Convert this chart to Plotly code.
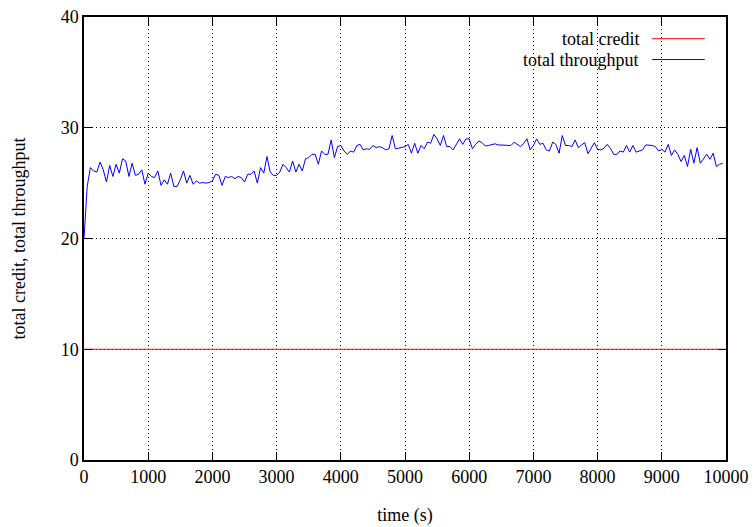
import plotly.graph_objects as go

# time axis (s), sampled every 50 s
time_s = list(range(0, 10000, 50))

throughput = [
    20.0, 24.7, 26.4, 26.1, 26.0, 26.9, 26.2, 25.1, 26.6, 25.6,
    26.7, 25.9, 27.2, 27.0, 25.6, 26.8, 25.7, 25.8, 26.2, 24.9,
    25.9, 25.6, 25.5, 26.1, 24.8, 25.3, 24.9, 25.9, 24.7, 24.7,
    25.3, 26.1, 25.0, 25.7, 24.9, 25.2, 25.0, 25.05, 25.0, 25.05,
    25.2,
    25.8, 25.7, 24.8, 25.6, 25.5, 25.6, 25.4, 25.6, 25.5, 25.1,
    25.8, 25.8, 26.1, 25.0, 26.4, 25.9, 27.4, 26.0, 25.7, 25.7,
    26.0, 26.7, 26.4, 26.0, 27.0, 26.0, 26.7, 26.1, 27.2, 27.3,
    27.6, 27.6, 26.7, 27.9, 27.6, 27.6, 28.9, 27.3, 28.3, 28.4,
    27.9, 27.6, 27.9, 27.8, 28.4, 28.5, 28.0, 28.1, 28.05, 28.4,
    28.2, 28.3, 28.2, 28.0, 28.1, 29.3, 28.1, 28.15, 28.2, 28.3,
    28.5, 27.7, 28.6, 27.7, 28.4, 28.1, 28.7, 28.6, 29.4, 29.0,
    28.4, 29.3, 28.3, 28.3, 28.0, 28.5, 29.0, 28.5, 29.0, 29.0,
    28.1, 28.5, 28.8, 28.65, 28.35, 28.4, 28.5, 28.55, 28.45, 28.45,
    28.4, 28.4, 28.4, 28.7, 28.5, 28.3, 28.6, 29.0, 28.0, 28.4,
    29.0, 28.5, 28.6, 28.0, 27.9, 28.7, 28.5, 27.7, 29.3, 28.4,
    28.4, 28.3, 28.9, 28.2, 28.45, 28.65, 27.65, 28.2, 28.65,
    28.05, 28.0, 28.15, 28.5, 28.15, 27.6, 27.6, 27.9, 27.8, 28.4,
    27.8, 28.4, 27.8, 27.9, 28.0, 28.45, 28.45, 28.4, 28.3, 27.9,
    28.05, 27.8, 28.5, 27.5, 28.0, 27.6, 26.95, 27.5, 26.5, 28.05,
    26.8, 28.2, 26.8, 27.2, 27.6, 27.15, 27.7, 26.5, 26.7, 26.8,
]

credit_time = [0, 10000]
credit = [10, 10]

x_ticks = [0, 1000, 2000, 3000, 4000, 5000, 6000, 7000, 8000, 9000, 10000]
x_tick_labels = ["0", "1000", "2000", "3000", "4000", "5000", "6000", "7000", "8000", "9000", "10000"]
y_ticks = [0, 10, 20, 30, 40]
y_tick_labels = ["0", "10", "20", "30", "40"]

series_names = ["total credit", "total throughput"]
series_colors = ["#ff0000", "#0000ff"]

FONT = "Liberation Serif"
FS = 18

fig = go.Figure()
fig.add_trace(go.Scatter(x=credit_time, y=credit, mode="lines",
                         line=dict(color=series_colors[0], width=1),
                         name=series_names[0], showlegend=False))
fig.add_trace(go.Scatter(x=time_s, y=throughput, mode="lines",
                         line=dict(color=series_colors[1], width=1),
                         name=series_names[1], showlegend=False))

axis_common = dict(
    showline=True, linecolor="black", linewidth=1.5, mirror="allticks",
    ticks="inside", ticklen=8, tickcolor="black", tickwidth=1,
    showgrid=True, gridcolor="black", gridwidth=1, griddash="1px,3px",
    zeroline=False, automargin=False,
    tickfont=dict(family=FONT, size=FS, color="black"),
)

fig.update_xaxes(range=[0, 10000], tickvals=x_ticks, ticktext=x_tick_labels,
                 title=dict(text="time (s)", font=dict(family=FONT, size=FS, color="black"), standoff=22),
                 **axis_common)
fig.update_yaxes(range=[0, 40], tickvals=y_ticks, ticktext=y_tick_labels,
                 title=dict(text="total credit, total throughput", font=dict(family=FONT, size=FS, color="black"), standoff=30),
                 **axis_common)

# key box (blanks the grid behind the key like gnuplot)
shapes = [dict(type="rect", xref="paper", yref="paper", x0=0.586, x1=0.984, y0=0.880, y1=0.975,
               fillcolor="white", line=dict(width=0), layer="between")]
annotations = []
key_rows_y = [0.951, 0.904]
for name, color, ky in zip(series_names, series_colors, key_rows_y):
    annotations.append(dict(xref="paper", yref="paper", x=0.8676, y=ky, text=name, showarrow=False,
                            xanchor="right", yanchor="middle",
                            font=dict(family=FONT, size=FS, color="black")))
    shapes.append(dict(type="line", xref="paper", yref="paper", x0=0.885, x1=0.967, y0=ky, y1=ky,
                       line=dict(color=color, width=1), layer="above"))

fig.update_layout(
    width=755, height=527,
    margin=dict(l=84, r=29, t=17, b=67),
    paper_bgcolor="white", plot_bgcolor="white",
    font=dict(family=FONT, size=FS, color="black"),
    shapes=shapes, annotations=annotations,
)

fig.write_html("out.html")
